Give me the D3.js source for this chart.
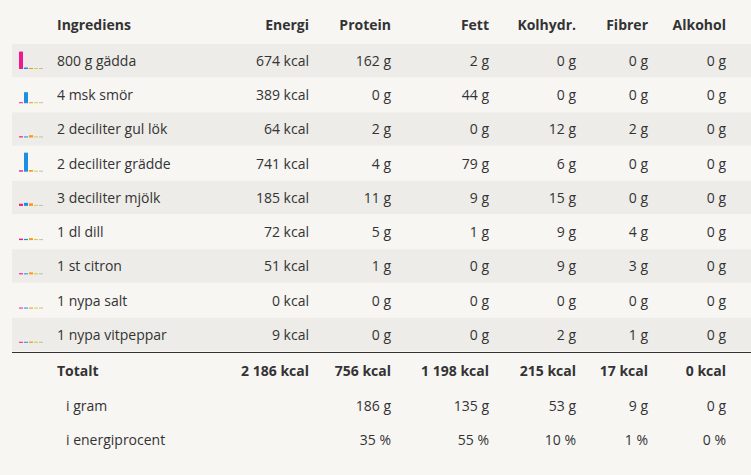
<!DOCTYPE html>
<html><head><meta charset="utf-8">
<script src="https://cdn.jsdelivr.net/npm/d3@7"></script>
<style>body{margin:0;background:#f7f6f3;font-family:"Open Sans",sans-serif;}</style>
</head><body><svg id="c" width="751" height="475"></svg>
<script>
const names = ["800 g gädda","4 msk smör","2 deciliter gul lök","2 deciliter grädde","3 deciliter mjölk","1 dl dill","1 st citron","1 nypa salt","1 nypa vitpeppar"];
const energi = [674,389,64,741,185,72,51,0,9];
const protein = [162,0,2,4,11,5,1,0,0];
const fett = [2,44,0,79,9,1,0,0,0];
const kolhydr = [0,0,12,6,15,9,9,0,2];
const fibrer = [0,0,2,0,0,4,3,0,1];
const alkohol = [0,0,0,0,0,0,0,0,0];
const kcalPerGram = [4,9,4,2,7];
const headers = ["Energi","Protein","Fett","Kolhydr.","Fibrer","Alkohol"];
const totals = ["2 186 kcal","756 kcal","1 198 kcal","215 kcal","17 kcal","0 kcal"];
const gram = ["","186 g","135 g","53 g","9 g","0 g"];
const procent = ["","35 %","55 %","10 %","1 %","0 %"];
const barColors = ["#ec1c8f","#1d8fe1","#f5961e","#c8d83a","#bdbdbd"];

const svg = d3.select("#c");
const colX = [309,391,489,576,648,726];
const y = d3.scaleBand().domain(d3.range(names.length)).range([44,352]);
const h = d3.scaleLinear().domain([0,711]).range([1,19]);
const txt = (x,yy,t,anchor,bold) => svg.append("text").attr("x",x).attr("y",yy).attr("text-anchor",anchor)
  .attr("font-size",14).attr("fill","#333").attr("font-weight",bold?"bold":null).text(t);

txt(57,30,"Ingrediens","start",true);
headers.forEach((t,i)=>txt(colX[i],30,t,"end",true));

names.forEach((n,r)=>{
  const y0 = y(r);
  if (r%2===0) svg.append("rect").attr("x",12).attr("y",y0).attr("width",739).attr("height",y.bandwidth()-1).attr("fill","#edece8");
  const vals = [protein[r],fett[r],kolhydr[r],fibrer[r],alkohol[r]];
  const base = y0+25;
  vals.forEach((v,k)=>{
    const hh = h(v*kcalPerGram[k]);
    svg.append("rect").attr("x",19+k*5).attr("width",k<1||v>0?4:4)
      .attr("y",base-hh).attr("height",hh).attr("fill",barColors[k]);
  });
  const ty = y0+22;
  txt(57,ty,n,"start");
  const cells = [energi[r]+" kcal",protein[r]+" g",fett[r]+" g",kolhydr[r]+" g",fibrer[r]+" g",alkohol[r]+" g"];
  cells.forEach((t,i)=>txt(colX[i],ty,t,"end"));
});
svg.append("line").attr("x1",12).attr("x2",751).attr("y1",352.5).attr("y2",352.5).attr("stroke","#333");
txt(57,376,"Totalt","start",true);
totals.forEach((t,i)=>txt(colX[i],376,t,"end",true));
txt(66,411,"i gram","start");
gram.forEach((t,i)=>txt(colX[i],411,t,"end"));
txt(66,445,"i energiprocent","start");
procent.forEach((t,i)=>txt(colX[i],445,t,"end"));
</script></body></html>
